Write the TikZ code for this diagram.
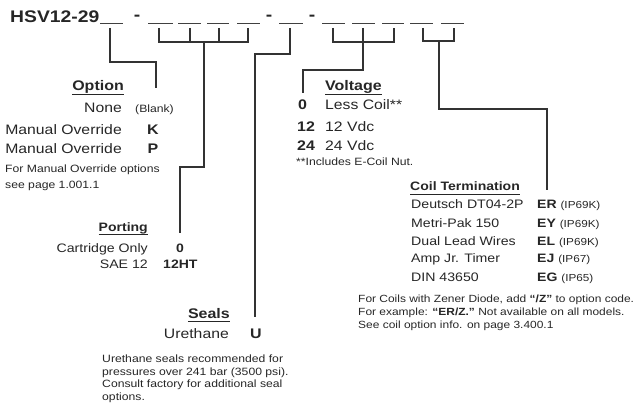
\documentclass[tikz,border=0pt]{standalone}
\usepackage{fontspec}
\setmainfont{Liberation Sans}[FakeStretch=1.15]
\begin{document}
\begin{tikzpicture}[x=1pt,y=-1pt,
  txt/.style={inner sep=0pt, text=black!85},
  big/.style={txt, font=\fontsize{13.7}{16}\selectfont},
  med/.style={txt, font=\fontsize{12.3}{14}\selectfont},
  sml/.style={txt, font=\fontsize{10.6}{13}\selectfont},
  fnt/.style={txt, font=\fontsize{10.4}{12}\selectfont},
  bighead/.style={txt, font=\fontsize{13.9}{16}\selectfont\bfseries},
  medhead/.style={txt, font=\fontsize{12.2}{14}\selectfont\bfseries},
  ttl/.style={txt, font=\fontsize{16.8}{19}\selectfont\bfseries},
  wire/.style={draw=black!80, line width=1.1pt},
  blankline/.style={draw=black!75, line width=1pt},
  uline/.style={draw=black!85, line width=0.8pt}]
\useasboundingbox (0,0) rectangle (635,409);

% title and blanks
\node[ttl, anchor=base west] (title) at (10,23) {HSV12-29};
\foreach \n/\a/\b in {1/100/123, 2/148/173, 3/178/201, 4/207/229, 5/237/260, 6/279/303, 7/322/345, 8/352/375, 9/382/404, 10/410/433, 11/441/464}{
  \coordinate (bl\n) at (\a,24);
  \coordinate (br\n) at (\b,24);
  \draw[blankline] (bl\n) -- (br\n);
}
\node[ttl, anchor=base] (d1) at (137,21) {-};
\node[ttl, anchor=base] (d2) at (269,21) {-};
\node[ttl, anchor=base] (d3) at (312,21) {-};

% tick coordinates
\coordinate (t1) at (110,28);
\coordinate (t2) at (159,28);
\coordinate (t3) at (190,28);
\coordinate (t4) at (219,28);
\coordinate (t5) at (248,28);
\coordinate (t6) at (290,28);
\coordinate (t7) at (333,28);
\coordinate (t8) at (363,28);
\coordinate (t9) at (394,28);
\coordinate (t10) at (423,28);
\coordinate (t11) at (454,28);

% Option section
\node[bighead, anchor=base east] (opth) at (124,91) {Option};
\draw[uline] ([yshift=-3.5pt]opth.base west) -- ([yshift=-3.5pt]opth.base east);
\node[big, anchor=base east] (none) at (122,113) {None};
\node[sml, anchor=base west] (blank) at (135,113) {(Blank)};
\node[big, anchor=base east] (mo1) at (122,135) {Manual Override};
\node[bighead, anchor=base] (k) at (153,135) {K};
\node[big, anchor=base east] (mo2) at (122,154) {Manual Override};
\node[bighead, anchor=base] (p) at (153,154) {P};
\node[sml, anchor=base west] (optn1) at (5,173) {For Manual Override options};
\node[sml, anchor=base west] (optn2) at (5,189) {see page 1.001.1};
\coordinate (optend) at (156,88);
\draw[wire] (t1) |- (156,62) -- (optend);

% Porting section
\node[medhead, anchor=base east] (porth) at (148,231) {Porting};
\draw[uline] ([yshift=-3.2pt]porth.base west) -- ([yshift=-3.2pt]porth.base east);
\node[med, anchor=base east] (cart) at (148,252) {Cartridge Only};
\node[medhead, anchor=base] (zero) at (180,252) {0};
\node[med, anchor=base east] (sae) at (148,268) {SAE 12};
\node[medhead, anchor=base west] (sht) at (163,268) {12HT};
\coordinate (portend) at (180,233);
\draw[wire] (t2) -- (159,42) -- (248,42) -- (t5);
\draw[wire] (t3) -- (190,42);
\draw[wire] (t4) -- (219,42);
\draw[wire] (204,42) -- (204,167) -- (180,167) -- (portend);

% Seals section
\node[bighead, anchor=base east] (sealh) at (230,318) {Seals};
\draw[uline] ([yshift=-3.5pt]sealh.base west) -- ([yshift=-3.5pt]sealh.base east);
\node[big, anchor=base east] (ureth) at (229,338) {Urethane};
\node[bighead, anchor=base] (u) at (256,338) {U};
\node[sml, anchor=base west] (sn1) at (102,362) {Urethane seals recommended for};
\node[sml, anchor=base west] (sn2) at (102,375) {pressures over 241 bar (3500 psi).};
\node[sml, anchor=base west] (sn3) at (102,387) {Consult factory for additional seal};
\node[sml, anchor=base west] (sn4) at (102,400) {options.};
\coordinate (sealend) at (255,317);
\draw[wire] (t6) -- (290,54) -- (255,54) -- (sealend);

% Voltage section
\node[bighead, anchor=base west] (volth) at (325,91) {Voltage};
\draw[uline] ([yshift=-3.5pt]volth.base west) -- ([yshift=-3.5pt]volth.base east);
\node[bighead, anchor=base west] (v0) at (298,110) {0};
\node[big, anchor=base west] (lc) at (325,110) {Less Coil**};
\node[bighead, anchor=base west] (v12) at (297,132) {12};
\node[big, anchor=base west] (vdc12) at (325,132) {12 Vdc};
\node[bighead, anchor=base west] (v24) at (297,151) {24};
\node[big, anchor=base west] (vdc24) at (325,151) {24 Vdc};
\node[sml, anchor=base west] (vn) at (296,166) {**Includes E-Coil Nut.};
\coordinate (voltend) at (303,93);
\draw[wire] (t7) -- (333,42) -- (394,42) -- (t9);
\draw[wire] (t8) -- (363,42);
\draw[wire] (363,42) -- (363,70) -- (303,70) -- (voltend);

% Coil termination section
\node[medhead, anchor=base west] (coilh) at (410,191) {Coil Termination};
\draw[uline] ([yshift=-3.2pt]coilh.base west) -- ([yshift=-3.2pt]coilh.base east);
\node[med, anchor=base west] (c1) at (411,208) {Deutsch DT04-2P};
\node[med, anchor=base west] (c2) at (411,227) {Metri-Pak 150};
\node[med, anchor=base west] (c3) at (411,245) {Dual Lead Wires};
\node[med, anchor=base west] (c4) at (411,262) {Amp Jr. Timer};
\node[med, anchor=base west] (c5) at (411,281) {DIN 43650};
\node[medhead, anchor=base west] (er) at (537,208) {ER {\mdseries\fontsize{10.2}{12}\selectfont(IP69K)}};
\node[medhead, anchor=base west] (ey) at (537,227) {EY {\mdseries\fontsize{10.2}{12}\selectfont(IP69K)}};
\node[medhead, anchor=base west] (el) at (537,245) {EL {\mdseries\fontsize{10.2}{12}\selectfont(IP69K)}};
\node[medhead, anchor=base west] (ej) at (537,262) {EJ {\mdseries\fontsize{10.2}{12}\selectfont(IP67)}};
\node[medhead, anchor=base west] (eg) at (537,281) {EG {\mdseries\fontsize{10.2}{12}\selectfont(IP65)}};
\node[fnt, anchor=base west] (cn1) at (358,302) {For Coils with Zener Diode, add \textbf{“/Z”} to option code.};
\node[fnt, anchor=base west] (cn2) at (358,315) {For example: \textbf{“ER/Z.”} Not available on all models.};
\node[fnt, anchor=base west] (cn3) at (358,328) {See coil option info. on page 3.400.1};
\coordinate (coilend) at (547,190);
\draw[wire] (t10) -- (423,41) -- (454,41) -- (t11);
\draw[wire] (439,41) -- (439,109) -- (547,109) -- (coilend);
\end{tikzpicture}
\end{document}
